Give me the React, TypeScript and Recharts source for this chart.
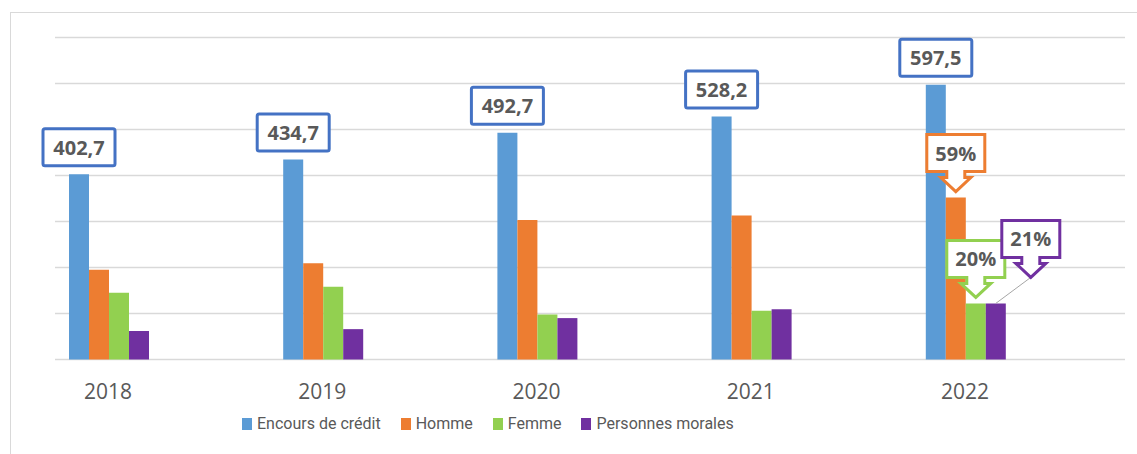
import React from "react";
import { BarChart, Bar, XAxis, YAxis, CartesianGrid, LabelList } from "recharts";

const years = ["2018", "2019", "2020", "2021", "2022"];
const encours = [402.7, 434.7, 492.7, 528.2, 597.5];
const homme = [195, 209, 303, 313, 352];
const femme = [145, 158, 98, 106, 122];
const morales = [62, 66, 90, 109, 122];
const hommeShare = ["", "", "", "", "59%"];
const femmeShare = ["", "", "", "", "20%"];
const moralesShare = ["", "", "", "", "21%"];
const yTicks = [0, 100, 200, 300, 400, 500, 600, 700];

const series = [
  { key: "encours", name: "Encours de crédit", color: "#5B9BD5" },
  { key: "homme", name: "Homme", color: "#ED7D31" },
  { key: "femme", name: "Femme", color: "#92D050" },
  { key: "morales", name: "Personnes morales", color: "#7030A0" },
];

const data = years.map((year, i) => ({
  year,
  encours: encours[i],
  homme: homme[i],
  femme: femme[i],
  morales: morales[i],
  hommeLabel: hommeShare[i],
  femmeLabel: femmeShare[i],
  moralesLabel: moralesShare[i],
}));

const textColor = "#595959";
const font = "'Open Sans', sans-serif";

// boxed value above the blue bars
function BoxLabel(props: any) {
  const { x, y, width, value } = props;
  const cx = Number(x) + Number(width) / 2;
  const bottom = Number(y) - 8.5;
  const h = 37;
  const w = 72;
  const txt = Number(value).toFixed(1).replace(".", ",");
  return (
    <g>
      <rect x={cx - w / 2} y={bottom - h} width={w} height={h} fill="#fff" stroke="#4472C4" strokeWidth={3} rx={2} />
      <text x={cx} y={bottom - h / 2 + 7.5} textAnchor="middle" fontFamily={font} fontWeight="bold" fontSize={20} fill={textColor}>
        {txt}
      </text>
    </g>
  );
}

// down-arrow callout for the 2022 shares
function makeCallout(color: string, dx: number, dy: number, leader: boolean) {
  return (props: any) => {
    const { x, y, width, value } = props;
    if (!value) return null;
    const bx = Number(x) + Number(width) / 2;
    const by = Number(y);
    const tx = bx + dx;
    const ty = by + dy;
    const bottom = ty - 20;
    const top = bottom - 37;
    const left = tx - 29;
    const right = tx + 29;
    const d = `M${left},${top} H${right} V${bottom} H${tx + 9} V${bottom + 6} H${tx + 15} L${tx},${ty} L${tx - 15},${bottom + 6} H${tx - 9} V${bottom} H${left} Z`;
    return (
      <g>
        {leader && <line x1={tx} y1={ty} x2={bx} y2={by} stroke="#A6A6A6" strokeWidth={1} />}
        <path d={d} fill="#fff" stroke={color} strokeWidth={3} strokeLinejoin="miter" />
        <text x={tx} y={(top + bottom) / 2 + 7.5} textAnchor="middle" fontFamily={font} fontWeight="bold" fontSize={20} fill={textColor}>
          {value}
        </text>
      </g>
    );
  };
}

export default function App() {
  return (
    <div style={{ position: "absolute", left: 0, top: 0, width: 1137, height: 454, background: "#fff", overflow: "hidden" }}>
      <div style={{ position: "absolute", left: 10, top: 12, width: 1140, height: 460, border: "1px solid #D9D9D9" }} />
      <div style={{ position: "absolute", left: 0, top: 0 }}>
        <BarChart
          width={1137}
          height={454}
          data={data}
          margin={{ top: 37.5, right: 12, bottom: 54.5, left: 55 }}
          barCategoryGap={68}
          barGap={0}
        >
          <CartesianGrid horizontal vertical={false} stroke="#D9D9D9" strokeWidth={1.5} />
          <YAxis hide domain={[0, 700]} ticks={yTicks} />
          <XAxis
            dataKey="year"
            height={40}
            axisLine={false}
            tickLine={false}
            tickSize={0}
            tickMargin={25}
            padding={{ left: -54, right: 53 }}
            tick={{ fontSize: 21, fill: textColor, fontFamily: font }}
          />
          <Bar dataKey="encours" name="Encours de crédit" fill="#5B9BD5" isAnimationActive={false}>
            <LabelList dataKey="encours" content={BoxLabel} />
          </Bar>
          <Bar dataKey="homme" name="Homme" fill="#ED7D31" isAnimationActive={false}>
            <LabelList dataKey="hommeLabel" content={makeCallout("#ED7D31", 0, -6, false)} />
          </Bar>
          <Bar dataKey="femme" name="Femme" fill="#92D050" isAnimationActive={false}>
            <LabelList dataKey="femmeLabel" content={makeCallout("#92D050", 0, -6, false)} />
          </Bar>
          <Bar dataKey="morales" name="Personnes morales" fill="#7030A0" isAnimationActive={false}>
            <LabelList dataKey="moralesLabel" content={makeCallout("#7030A0", 35, -26, true)} />
          </Bar>
        </BarChart>
      </div>
      <div
        style={{
          position: "absolute",
          left: 242,
          top: 414,
          display: "flex",
          alignItems: "center",
          gap: 20,
          fontFamily: "Roboto, sans-serif",
          fontSize: 16,
          color: textColor,
          whiteSpace: "nowrap",
        }}
      >
        {series.map((s) => (
          <div key={s.key} style={{ display: "flex", alignItems: "center" }}>
            <span style={{ display: "inline-block", width: 10, height: 12, background: s.color, marginRight: 5 }} />
            <span>{s.name}</span>
          </div>
        ))}
      </div>
    </div>
  );
}
